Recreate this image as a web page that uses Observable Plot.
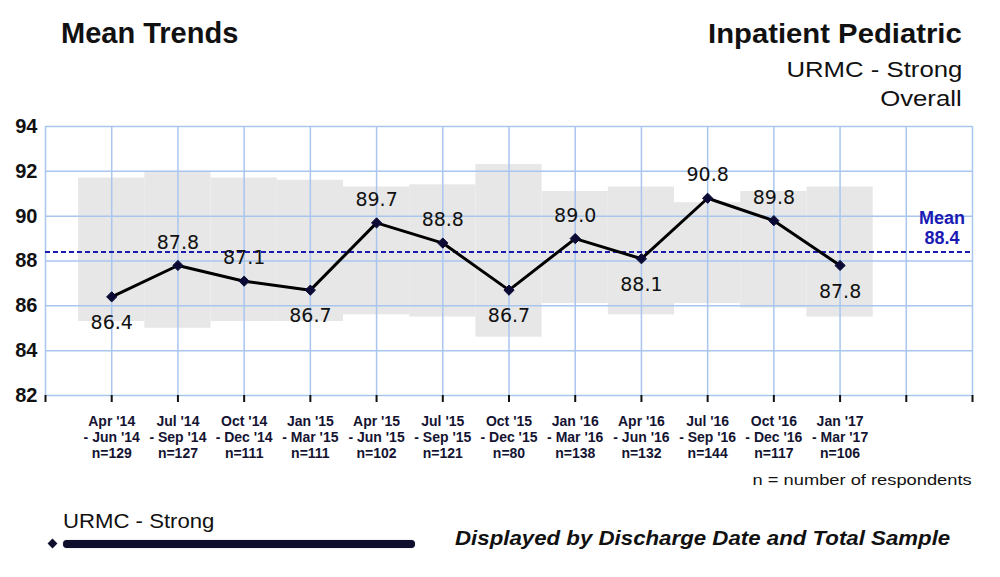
<!DOCTYPE html>
<html>
<head>
<meta charset="utf-8">
<script src="https://cdn.jsdelivr.net/npm/d3@7"></script>
<script src="https://cdn.jsdelivr.net/npm/@observablehq/plot@0.6"></script>
<style>
  html, body { margin: 0; padding: 0; background: #fff; overflow: hidden; }
  #wrap { position: relative; width: 1000px; height: 577px; font-family: "Liberation Sans", Arial, sans-serif; color: #111; }
  #chart { position: absolute; left: 0; top: 0; }
  .t { position: absolute; white-space: nowrap; line-height: 1; }
  .r { transform-origin: right center; }
  .l { transform-origin: left center; }
  g[aria-label="y-axis tick label"] text { font-weight: bold; }
</style>
</head>
<body>
<div id="wrap">
  <div id="chart"></div>
  <div class="t l" style="left:61px; top:19px; font-size:29px; font-weight:bold;">Mean Trends</div>
  <div class="t r" style="right:38px; top:20px; font-size:28px; font-weight:bold; transform:scaleX(1.045);">Inpatient Pediatric</div>
  <div class="t r" style="right:38px; top:59px; font-size:22px; transform:scaleX(1.17);">URMC - Strong</div>
  <div class="t r" style="right:38px; top:88px; font-size:22px; transform:scaleX(1.17);">Overall</div>
  <div class="t r" style="right:28px; top:472px; font-size:15.5px; transform:scaleX(1.18);">n = number of respondents</div>
  <div class="t l" style="left:63px; top:510px; font-size:21px; transform:scaleX(1.055);">URMC - Strong</div>
  <div style="position:absolute; left:49px; top:539.5px; width:7px; height:7px; background:#0f0f2d; transform:rotate(45deg);"></div>
  <div style="position:absolute; left:63px; top:539.5px; width:352px; height:8px; background:#0f0f2d; border-radius:4px; box-shadow:0 0 1px #667;"></div>
  <div class="t l" style="left:455px; top:526.5px; font-size:21px; font-weight:bold; font-style:italic; transform:scaleX(1.06);">Displayed by Discharge Date and Total Sample</div>
</div>
<script>
// ---- data ----
const periodStart = ["Apr '14","Jul '14","Oct '14","Jan '15","Apr '15","Jul '15","Oct '15","Jan '16","Apr '16","Jul '16","Oct '16","Jan '17"];
const periodEnd   = ["- Jun '14","- Sep '14","- Dec '14","- Mar '15","- Jun '15","- Sep '15","- Dec '15","- Mar '16","- Jun '16","- Sep '16","- Dec '16","- Mar '17"];
const respondents = [129,127,111,111,102,121,80,138,132,144,117,106];
const meanScores  = [86.4,87.8,87.1,86.7,89.7,88.8,86.7,89.0,88.1,90.8,89.8,87.8];
const bandHigh    = [91.7,92.0,91.7,91.6,91.3,91.4,92.3,91.1,91.3,90.6,91.1,91.3];
const bandLow     = [85.3,85.0,85.3,85.3,85.6,85.5,84.6,86.1,85.6,86.1,85.9,85.5];
const overallMean = 88.4;
const yTicks = [82,84,86,88,90,92,94];
const xSlots = [0,1,2,3,4,5,6,7,8,9,10,11,12,13,14];

const data = meanScores.map((v, i) => ({
  pos: i + 1,
  value: v,
  high: bandHigh[i],
  low: bandLow[i],
  label: `${periodStart[i]}\n${periodEnd[i]}\nn=${respondents[i]}`,
  below: (i === 0 || v < meanScores[i - 1]) && (i === meanScores.length - 1 || v < meanScores[i + 1])
}));

const grid = "#a9c6ee";

const chart = Plot.plot({
  width: 1000,
  height: 577,
  marginLeft: 45,
  marginRight: 28,
  marginTop: 126,
  marginBottom: 182,
  style: { fontFamily: "'Liberation Sans', Arial, sans-serif", background: "transparent", color: "#111" },
  x: { domain: [0, 14], axis: null, label: null },
  y: { domain: [82, 94], axis: null, label: null },
  marks: [
    Plot.rect(data, { x1: d => d.pos - 0.5, x2: d => d.pos + 0.5, y1: "low", y2: "high", fill: "#e7e7e7" }),
    Plot.ruleY(yTicks, { stroke: grid, strokeWidth: 1.5 }),
    Plot.ruleX(xSlots, { stroke: grid, strokeWidth: 1.5 }),
    Plot.axisX({ ticks: xSlots, tickSize: 7, tickFormat: () => "", label: null, stroke: "#111", strokeWidth: 2 }),
    Plot.axisY({ ticks: yTicks, tickSize: 0, tickPadding: 8, label: null, fontSize: 20, fontWeight: "bold", fill: "#111" }),
    Plot.ruleY([overallMean], { stroke: "#1c1cab", strokeWidth: 2, strokeDasharray: "5,3" }),
    Plot.text([overallMean], { y: d => d, frameAnchor: "right", dx: -30.5, textAnchor: "middle", lineAnchor: "bottom", dy: -8, lineHeight: 1.11, text: d => `Mean\n${d.toFixed(1)}`, fill: "#1a1ab4", fontSize: 18, fontWeight: "bold" }),
    Plot.line(data, { x: "pos", y: "value", stroke: "#000", strokeWidth: 3 }),
    Plot.dot(data, { x: "pos", y: "value", symbol: "diamond2", r: 4.6, fill: "#0a0a35", stroke: "#0a0a35", strokeWidth: 1 }),
    Plot.text(data.filter(d => !d.below), { x: "pos", y: "value", text: d => d.value.toFixed(1), dy: -23, fontSize: 19, fontFamily: "'DejaVu Sans', sans-serif", fill: "#111" }),
    Plot.text(data.filter(d => d.below), { x: "pos", y: "value", text: d => d.value.toFixed(1), dy: 26, fontSize: 19, fontFamily: "'DejaVu Sans', sans-serif", fill: "#111" }),
    Plot.text(data, { x: "pos", y: 82, text: "label", lineAnchor: "top", dy: 18.5, lineHeight: 1.16, fontSize: 14, fontWeight: "bold", fill: "#141432" })
  ]
});
document.getElementById("chart").appendChild(chart);
</script>
</body>
</html>
